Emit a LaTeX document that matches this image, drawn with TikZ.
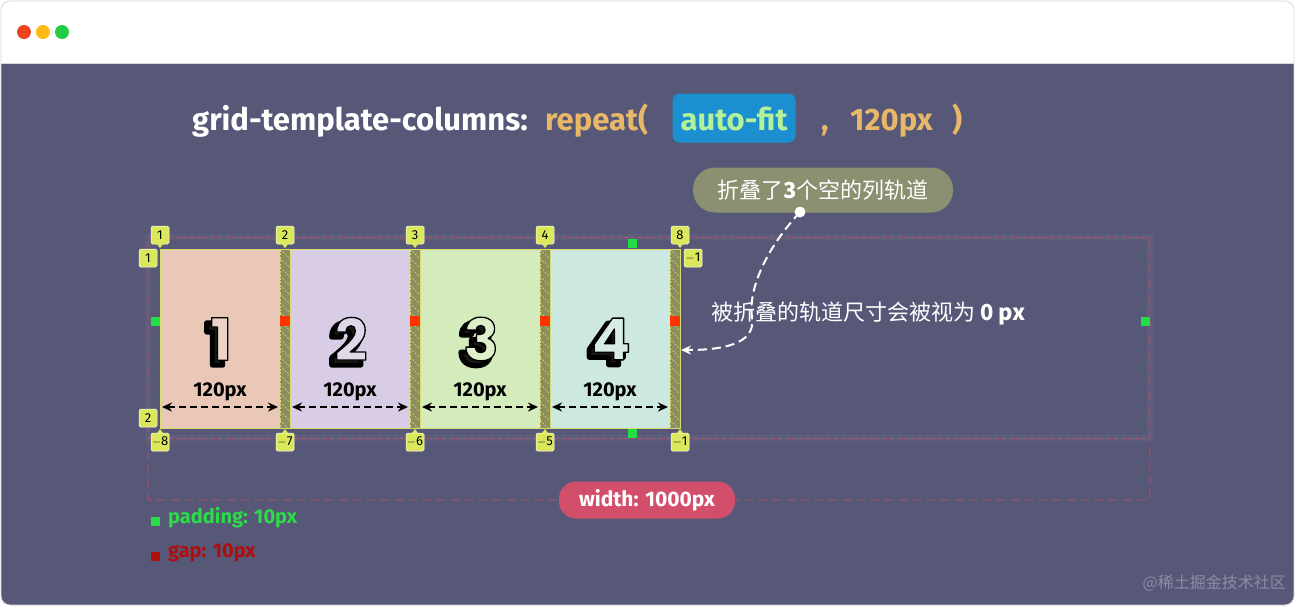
\documentclass[tikz,border=0pt]{standalone}
\usepackage{fontspec}
\setmainfont{Fira Sans}
\newfontfamily\cjk{Noto Sans CJK SC}
\newfontfamily\digitfont{Poppins}
\usetikzlibrary{arrows.meta,calc}
\newcommand{\strokedtext}[2]{\special{pdf:literal direct 2 Tr #1 w 1 j 0 G}#2\special{pdf:literal direct 0 Tr}}
\definecolor{winbg}{HTML}{575877}
\definecolor{barline}{HTML}{D8D8DC}
\definecolor{dotred}{HTML}{EE4422}
\definecolor{dotyellow}{HTML}{FFBB11}
\definecolor{dotgreen}{HTML}{22CC44}
\definecolor{codeorange}{HTML}{E8B868}
\definecolor{fitblue}{HTML}{1C8FD0}
\definecolor{fitgreen}{HTML}{B4F29A}
\definecolor{dashred}{HTML}{C44A6A}
\definecolor{colA}{HTML}{E9C8B8}
\definecolor{colB}{HTML}{D8CDE4}
\definecolor{colC}{HTML}{D4ECBC}
\definecolor{colD}{HTML}{CCE8E0}
\definecolor{gapolive}{HTML}{8C8E5E}
\definecolor{hatchyellow}{HTML}{D8DC70}
\definecolor{badgeyellow}{HTML}{DCE85C}
\definecolor{padgreen}{HTML}{22DD44}
\definecolor{gapred}{HTML}{FF3300}
\definecolor{noteolive}{HTML}{8A9070}
\definecolor{widthpink}{HTML}{D24E6B}
\definecolor{leggreen}{HTML}{2CDB48}
\definecolor{legred}{HTML}{B00D0D}
\definecolor{wmark}{HTML}{8C8CA8}
\definecolor{shadowblack}{HTML}{1A1A14}
\tikzset{
  colbox/.style={minimum width=120pt,minimum height=179pt,inner sep=0pt,draw=hatchyellow,line width=0.6pt},
  gapbox/.style={minimum width=10pt,minimum height=179pt,inner sep=0pt,fill=gapolive,draw=hatchyellow,dash pattern=on 2pt off 1.5pt,line width=0.5pt},
  badge/.style={fill=badgeyellow,draw=white,line width=0.5pt,rounded corners=1.5pt,minimum width=18pt,minimum height=18pt,inner sep=0pt,font=\fontsize{13}{13}\selectfont,text=black},
  padmark/.style={fill=padgreen,minimum size=9pt,inner sep=0pt},
  gapmark/.style={fill=gapred,minimum width=10pt,minimum height=10pt,inner sep=0pt},
  sizelbl/.style={font=\fontsize{20}{20}\selectfont\bfseries,text=black},
  dimarrow/.style={{Stealth[length=10pt,width=9pt]}-{Stealth[length=10pt,width=9pt]},dash pattern=on 7pt off 4pt,line width=1.7pt,black},
  bignum/.style={font=\digitfont\fontsize{58}{58}\selectfont\bfseries,inner sep=0pt},
  code/.style={font=\fontsize{31}{31}\selectfont\bfseries,anchor=base west,inner sep=0pt},
}
\begin{document}
\begin{tikzpicture}[x=1pt,y=-1pt]
\useasboundingbox (0,0) rectangle (1295,606);
\fill[white] (0,0) rectangle (1295,606);
\begin{scope}
\clip[rounded corners=9pt] (1,1) rectangle (1294,605);
\fill[white] (0,0) rectangle (1295,63);
\fill[winbg] (0,63) rectangle (1295,606);
\draw[barline,line width=1pt] (0,63.5) -- (1295,63.5);
\end{scope}
\draw[barline,line width=0.8pt,rounded corners=9pt] (1,1) rectangle (1294,605);
% window dots
\fill[dotred] (24,32) circle (7pt);
\fill[dotyellow] (43,32) circle (7pt);
\fill[dotgreen] (62,32) circle (7pt);
% title
\node[code,text=white] (t1) at (192,130) {grid-template-columns:};
\node[code,text=codeorange] (t2) at (545,130) {repeat(};
\node[fill=fitblue,rounded corners=7pt,minimum width=123pt,minimum height=49pt,inner sep=0pt] (fitbox) at (734,118) {};
\node[code,text=fitgreen,anchor=base] (t3) at (734,130) {auto-fit};
\node[code,text=codeorange] (t4) at (821,130) {,};
\node[code,text=codeorange] (t5) at (850,130) {120px};
\node[code,text=codeorange] (t6) at (952,130) {)};
% container outlines
\draw[white,opacity=0.04,line width=6pt] (148,237) rectangle (1150,438);
\draw[dashred,line width=0.9pt,dash pattern=on 4pt off 3pt] (148,237) -- (1150,237);
\draw[dashred,line width=0.9pt,dash pattern=on 4pt off 3pt] (148,438) -- (1150,438);
\draw[dashred,line width=0.9pt,dash pattern=on 9pt off 5pt,rounded corners=3pt] (1150,237) -- (1150,500) -- (148,500) -- (148,237);
% columns
\node[colbox,fill=colA] (c1) at (220,338.5) {};
\node[colbox,fill=colB] (c2) at (350,338.5) {};
\node[colbox,fill=colC] (c3) at (480,338.5) {};
\node[colbox,fill=colD] (c4) at (610,338.5) {};
% gaps
\foreach \gx/\gn in {285/g1,415/g2,545/g3,675/g4}{
  \node[gapbox] (\gn) at (\gx,338.5) {};
  \begin{scope}
  \clip (\gx-5,249) rectangle (\gx+5,428);
  \foreach \k in {0,9,...,189}{
    \draw[hatchyellow,line width=0.6pt,dash pattern=on 2pt off 1.5pt] (\gx-5,249+\k) -- (\gx+5,259+\k);
  }
  \end{scope}
  \node[gapmark] (\gn m) at (\gx,321) {};
}
\draw[hatchyellow,line width=0.8pt] (160,249) rectangle (680,428);
% padding markers
\node[padmark] (pl) at (155,321) {};
\node[padmark] (pr) at (1145,321) {};
\node[padmark] (pt) at (632,243) {};
\node[padmark] (pb) at (632,433) {};
% big numbers
\foreach \cx/\cc/\d/\nn in {220/colA/1/n1,350/colB/2/n2,480/colC/3/n3,610/colD/4/n4}{
  \node[bignum,text=shadowblack] (\nn s) at (\cx-4,344) {\strokedtext{5}{\d}};
  \node[bignum,text=\cc!80!white] (\nn) at (\cx+1,339) {\strokedtext{1.3}{\d}};
}
% size labels and arrows
\foreach \cx/\cn in {220/c1,350/c2,480/c3,610/c4}{
  \node[sizelbl] (\cn l) at (\cx,392) {120px};
  \coordinate (\cn a) at (\cx-58,407);
  \coordinate (\cn b) at (\cx+58,407);
  \draw[dimarrow] (\cn a) -- (\cn b);
}
% badges
\foreach \bx/\bt/\bn in {160/1/bt1,285/2/bt2,415/3/bt3,545/4/bt4,680/8/bt5}{
  \node[badge] (\bn) at (\bx,235) {\bt};
  \fill[badgeyellow] (\bx-3,244) -- (\bx+3,244) -- (\bx,248) -- cycle;
}
\foreach \bx/\bt/\bn in {160/$-$8/bb1,285/$-$7/bb2,415/$-$6/bb3,545/$-$5/bb4,680/$-$1/bb5}{
  \node[badge] (\bn) at (\bx,442) {\bt};
  \fill[badgeyellow] (\bx-3,433) -- (\bx+3,433) -- (\bx,429) -- cycle;
}
\node[badge] (r1) at (148,258) {1};
\node[badge] (r2) at (148,418) {2};
\node[badge] (r3) at (693,258) {$-$1};
% callout
\node[fill=noteolive,rounded corners=22pt,minimum width=260pt,minimum height=45pt,text=white,font=\cjk\fontsize{22}{22}\selectfont] (note) at (823,190) {折叠了\textbf{3}个空的列轨道};
\coordinate (dot) at (800,212);
\coordinate (tip) at (681,350);
\draw[white,line width=2pt,dash pattern=on 9pt off 5pt,-{Stealth[length=10pt,width=9pt]}] (dot) .. controls (765,250) and (748,290) .. (752,318) .. controls (756,345) and (720,350) .. (tip);
\fill[white] (dot) circle (5.5pt);
\node[anchor=west,inner sep=0pt,text=white,font=\cjk\fontsize{22}{22}\selectfont] (collapsed) at (711,313) {被折叠的轨道尺寸会被视为 \textbf{0 px}};
% width pill
\node[fill=widthpink,rounded corners=17pt,minimum width=176pt,minimum height=37pt,text=white,font=\fontsize{21}{21}\selectfont\bfseries] (width) at (647,500) {width: 1000px};
% legend
\node[fill=leggreen,minimum size=9pt,inner sep=0pt] (lg) at (155,521) {};
\node[anchor=west,inner sep=0pt,text=leggreen,font=\fontsize{20}{20}\selectfont\bfseries] (lgt) at (168,518) {padding: 10px};
\node[fill=legred,minimum size=9pt,inner sep=0pt] (lr) at (155,556) {};
\node[anchor=west,inner sep=0pt,text=legred,font=\fontsize{20}{20}\selectfont\bfseries] (lrt) at (168,553) {gap: 10px};
% watermark
\node[anchor=east,inner sep=0pt,text=wmark,font=\cjk\fontsize{16}{16}\selectfont] (wm) at (1286,583) {@稀土掘金技术社区};
\end{tikzpicture}
\end{document}
